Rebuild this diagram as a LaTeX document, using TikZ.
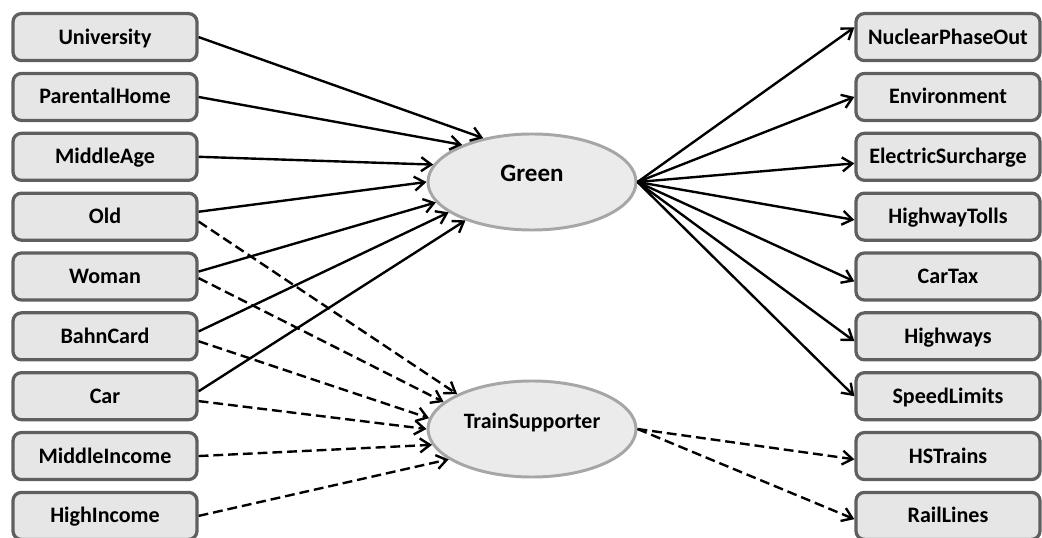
\documentclass[tikz,border=0pt]{standalone}
\usepackage{fontspec}
\setmainfont{Carlito}
\usepackage{tikz}
\usetikzlibrary{positioning,shapes.geometric,arrows.meta}
\definecolor{boxfill}{HTML}{E6E6E6}
\definecolor{boxedge}{HTML}{5F5F5F}
\definecolor{latfill}{HTML}{EBEBEB}
\definecolor{latedge}{HTML}{A6A6A6}

\begin{document}
\begin{tikzpicture}[x=0.025cm,y=-0.025cm,
box/.style={draw=boxedge,fill=boxfill,rectangle,rounded corners=6pt,line width=2.3pt,
    minimum width=4.6cm,minimum height=1.175cm,text height=1em,text depth=0pt,
    font=\fontsize{15.7}{18}\selectfont\bfseries},
latent/.style={draw=latedge,fill=latfill,ellipse,line width=2.1pt,
    minimum width=5.2cm,minimum height=2.4cm,text height=1ex,text depth=1ex},
effect/.style={line width=1.7pt,-{Straight Barb[length=0.25cm,width=0.35cm]}},
weak/.style={effect,dash pattern=on 7pt off 3.5pt}]
\useasboundingbox (0,0) rectangle (1042,538);
\matrix (inputs) [row sep=0.24cm] at (105,276.5) {
\node (univ) [box] {University}; \\
\node (parhome) [box] {ParentalHome}; \\
\node (midage) [box] {MiddleAge}; \\
\node (old) [box] {Old}; \\
\node (woman) [box] {Woman}; \\
\node (bahn) [box] {BahnCard}; \\
\node (car) [box] {Car}; \\
\node (midinc) [box] {MiddleIncome}; \\
\node (highinc) [box] {HighIncome}; \\
};
\matrix (outputs) [row sep=0.24cm] at (948,276.5) {
\node (npo) [box] {NuclearPhaseOut}; \\
\node (env) [box] {Environment}; \\
\node (elsur) [box] {ElectricSurcharge}; \\
\node (hwtoll) [box] {HighwayTolls}; \\
\node (cartax) [box] {CarTax}; \\
\node (hways) [box] {Highways}; \\
\node (speed) [box] {SpeedLimits}; \\
\node (hstrain) [box] {HSTrains}; \\
\node (rail) [box] {RailLines}; \\
};
\node (green) [latent,font=\fontsize{17.8}{20}\selectfont\bfseries] at (532,182) {Green};
\node (train) [latent,font=\fontsize{15.6}{18}\selectfont\bfseries] at (532,429) {TrainSupporter};

\draw [effect] (univ.east) -- (green.138);
\draw [effect] (parhome.east) -- (green.152);
\draw [effect] (midage.east) -- (green.170);
\draw [effect] (old.3) -- (green.180);
\draw [effect] (woman.3) -- (green.192);
\draw [effect] (bahn.3) -- (green.200);
\draw [effect] (car.3) -- (green.210);

\draw [weak] (old.-3) -- (train.155);
\draw [weak] (woman.-1) -- (train.163);
\draw [weak] (bahn.-3) -- (train.174);
\draw [weak] (car.-3) -- (train.180);
\draw [weak] (midinc.east) -- (train.189);
\draw [weak] (highinc.east) -- (train.200);

\draw [effect] (green.east) -- (npo.174);
\draw [effect] (green.east) -- (env.west);
\draw [effect] (green.east) -- (elsur.184);
\draw [effect] (green.east) -- (hwtoll.182);
\draw [effect] (green.east) -- (cartax.183);
\draw [effect] (green.east) -- (hways.183);
\draw [effect] (green.east) -- (speed.west);

\draw [weak] (train.east) -- (hstrain.182);
\draw [weak] (train.east) -- (rail.182);
\end{tikzpicture}
\end{document}
